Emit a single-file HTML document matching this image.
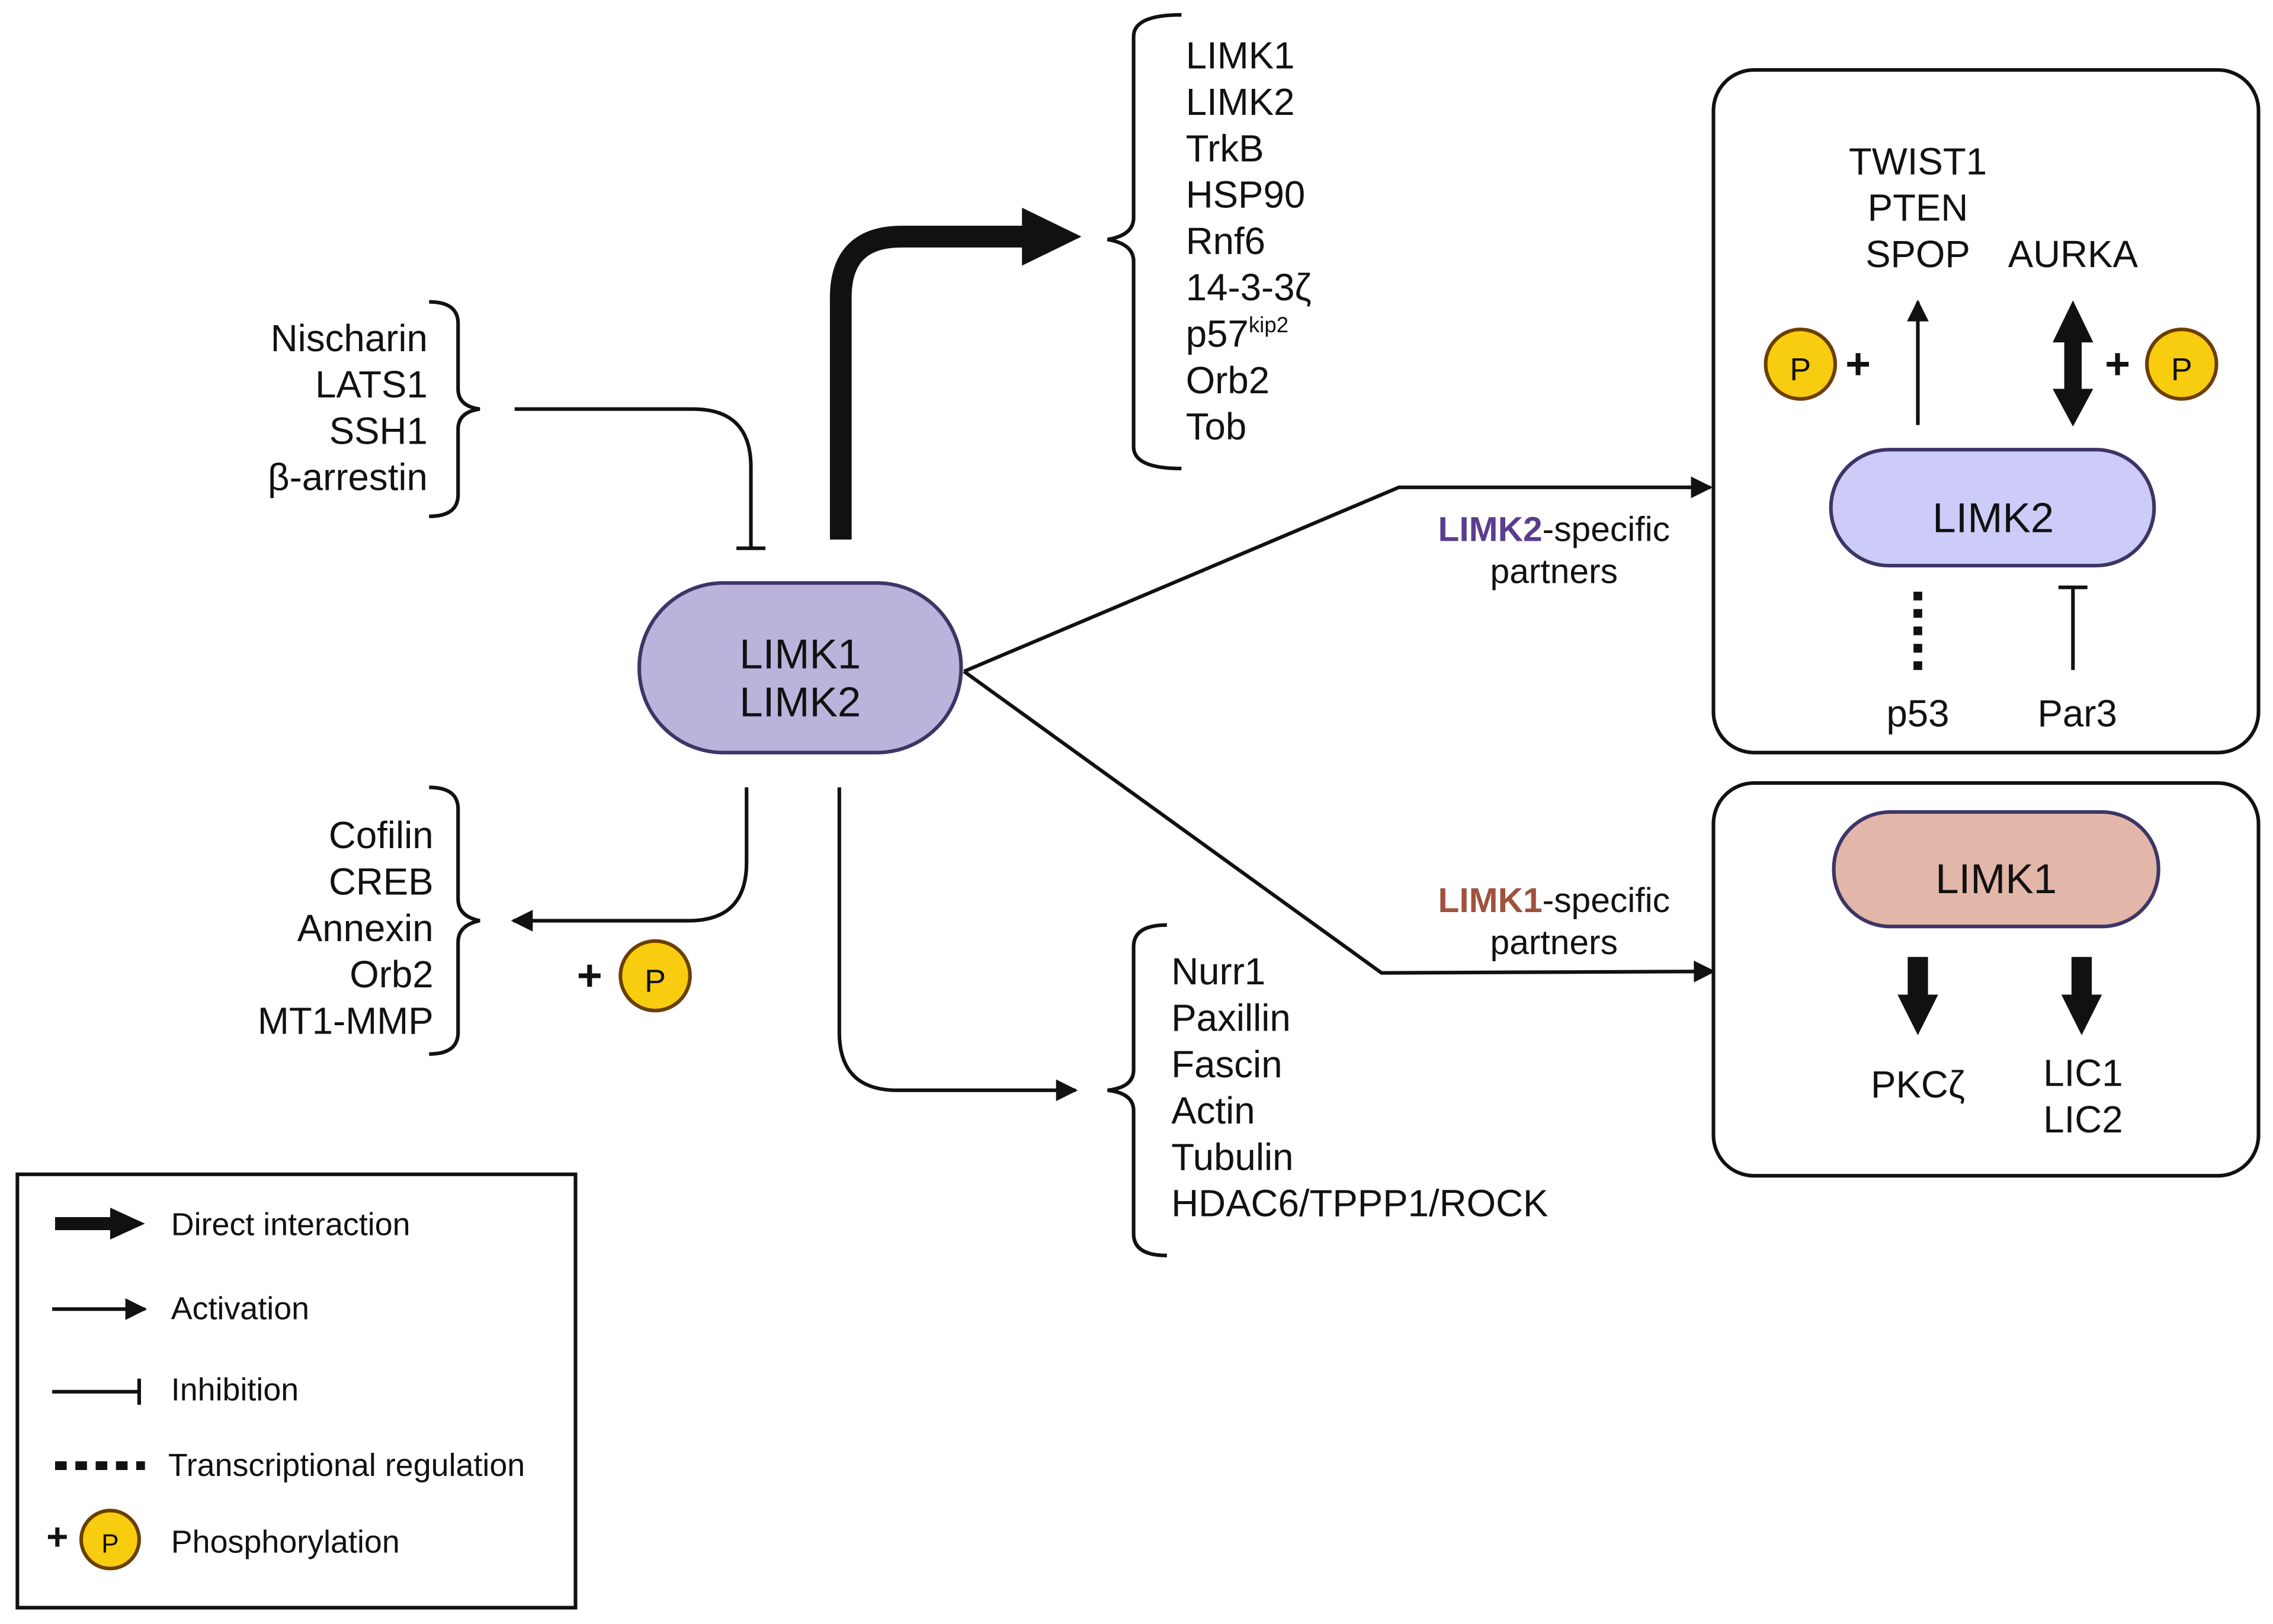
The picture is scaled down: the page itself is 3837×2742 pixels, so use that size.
<!DOCTYPE html>
<html><head><meta charset="utf-8"><style>html,body{margin:0;padding:0;background:#fff}svg{display:block}text{font-family:"Liberation Sans",sans-serif;fill:#111}</style></head><body>
<svg width="3837" height="2742" viewBox="0 0 1568 1120" xmlns="http://www.w3.org/2000/svg">
<defs>
<marker id="a" viewBox="0 0 10 10" refX="9" refY="5" markerWidth="18" markerHeight="15" markerUnits="userSpaceOnUse" orient="auto"><path d="M0,0L10,5L0,10z" fill="#111"/></marker>
</defs>
<g fill="none" stroke="#111" stroke-width="2.5">
<path d="M296,208 q20,0 20,15 v45 q0,12 15,14 q-15,2 -15,14 v45 q0,15 -20,15"/>
<path d="M815,10 q-33,0 -33,15 v125 q0,12 -18,15 q18,3 18,15 v128 q0,15 33,15"/>
<path d="M296,543 q20,0 20,15 v62 q0,12 15,15 q-15,3 -15,15 v62 q0,15 -20,15"/>
<path d="M805,638 q-23,0 -23,15 v85 q0,12 -18,14 q18,2 18,14 v85 q0,15 23,15"/>
<path d="M355,282 H478 q40,0 40,40 V378"/><path d="M508,378 H528"/>
<path d="M515,543 V595 q0,40 -40,40 H354" marker-end="url(#a)"/>
<path d="M579,543 V712 q0,40 40,40 H742" marker-end="url(#a)"/>
<path d="M665,463 L965,336 H1180" marker-end="url(#a)"/>
<path d="M665,463 L953,671 L1182,670" marker-end="url(#a)"/>
<rect x="1182" y="48" width="376" height="471" rx="28"/>
<rect x="1182" y="540" width="376" height="271" rx="28"/>
<path d="M1323,293 V208" marker-end="url(#a)"/>
<path d="M1323,408 V464" stroke-width="6" stroke-dasharray="6,6"/>
<path d="M1430,462 V405 M1420,405 H1440"/>
<rect x="12" y="810" width="385" height="299"/>
</g>
<path d="M580,372 V205 q0,-42 42,-42 H712" fill="none" stroke="#111" stroke-width="15"/>
<path d="M705,143 L746,163 L705,183z" fill="#111"/>
<rect x="1424" y="232" width="12" height="40" fill="#111"/>
<path d="M1416,236 L1430,207 L1444,236z M1416,268 L1430,294 L1444,268z" fill="#111"/>
<rect x="1316" y="660" width="14" height="28" fill="#111"/><path d="M1309,686 L1337,686 L1323,714z" fill="#111"/>
<rect x="1429" y="660" width="14" height="28" fill="#111"/><path d="M1422,686 L1450,686 L1436,714z" fill="#111"/>
<rect x="441" y="402" width="222" height="117" rx="58" fill="#bcb3dc" stroke="#3d3566" stroke-width="2.5"/>
<rect x="1263" y="310" width="223" height="80" rx="40" fill="#cdccf9" stroke="#3d3566" stroke-width="2.5"/>
<rect x="1265" y="560" width="224" height="79" rx="39" fill="#e2b6a8" stroke="#3d3566" stroke-width="2.5"/>
<text x="552" y="461" font-size="29" text-anchor="middle">LIMK1</text>
<text x="552" y="494" font-size="29" text-anchor="middle">LIMK2</text>
<text x="1375" y="367" font-size="29" text-anchor="middle">LIMK2</text>
<text x="1377" y="616" font-size="29" text-anchor="middle">LIMK1</text>
<g stroke="#6b3f00" stroke-width="2.5" fill="#f8cc0f">
<circle cx="452" cy="673" r="24"/><circle cx="1242" cy="251" r="24"/><circle cx="1505" cy="251" r="24"/><circle cx="76" cy="1062" r="20"/>
</g>
<g font-size="22" text-anchor="middle"><text x="452" y="684">P</text><text x="1242" y="262">P</text><text x="1505" y="262">P</text><text x="76" y="1071" font-size="18">P</text></g>
<g font-size="30" font-weight="bold"><text x="398" y="683">+</text><text x="1273" y="261">+</text><text x="1452" y="261">+</text><text x="32" y="1069" font-size="26">+</text></g>
<g font-size="26" text-anchor="end">
<text x="295" y="242">Nischarin</text><text x="295" y="274">LATS1</text><text x="295" y="306">SSH1</text><text x="295" y="338">β-arrestin</text>
<text x="299" y="585">Cofilin</text><text x="299" y="617">CREB</text><text x="299" y="649">Annexin</text><text x="299" y="681">Orb2</text><text x="299" y="713">MT1-MMP</text>
</g>
<g font-size="26">
<text x="818" y="47">LIMK1</text><text x="818" y="79">LIMK2</text><text x="818" y="111">TrkB</text><text x="818" y="143">HSP90</text><text x="818" y="175">Rnf6</text><text x="818" y="207">14-3-3ζ</text><text x="818" y="239">p57<tspan font-size="15" dy="-10">kip2</tspan></text><text x="818" y="271">Orb2</text><text x="818" y="303">Tob</text>
<text x="808" y="679">Nurr1</text><text x="808" y="711">Paxillin</text><text x="808" y="743">Fascin</text><text x="808" y="775">Actin</text><text x="808" y="807">Tubulin</text><text x="808" y="839">HDAC6/TPPP1/ROCK</text>
</g>
<g font-size="24" text-anchor="middle">
<text x="1072" y="373"><tspan font-weight="bold" style="fill:#5b3d8f">LIMK2</tspan>-specific</text><text x="1072" y="402">partners</text>
<text x="1072" y="629"><tspan font-weight="bold" style="fill:#a0523d">LIMK1</tspan>-specific</text><text x="1072" y="658">partners</text>
</g>
<g font-size="26" text-anchor="middle">
<text x="1323" y="120">TWIST1</text><text x="1323" y="152">PTEN</text><text x="1323" y="184">SPOP</text><text x="1430" y="184">AURKA</text>
<text x="1323" y="501">p53</text><text x="1433" y="501">Par3</text>
<text x="1323" y="757">PKCζ</text><text x="1437" y="749">LIC1</text><text x="1437" y="781">LIC2</text>
</g>
<path d="M38,844 H80" stroke="#111" stroke-width="9"/><path d="M76,833 L100,844 L76,855z" fill="#111"/>
<path d="M36,903 H100" stroke="#111" stroke-width="2.5" marker-end="url(#a)"/>
<path d="M36,960 H96 M96,951 V969" stroke="#111" stroke-width="2.5" fill="none"/>
<path d="M38,1011 H100" stroke="#111" stroke-width="6" stroke-dasharray="8,6"/>
<g font-size="22"><text x="118" y="852">Direct interaction</text><text x="118" y="910">Activation</text><text x="118" y="966">Inhibition</text><text x="116" y="1018">Transcriptional regulation</text><text x="118" y="1071">Phosphorylation</text></g>
</svg>
</body></html>
